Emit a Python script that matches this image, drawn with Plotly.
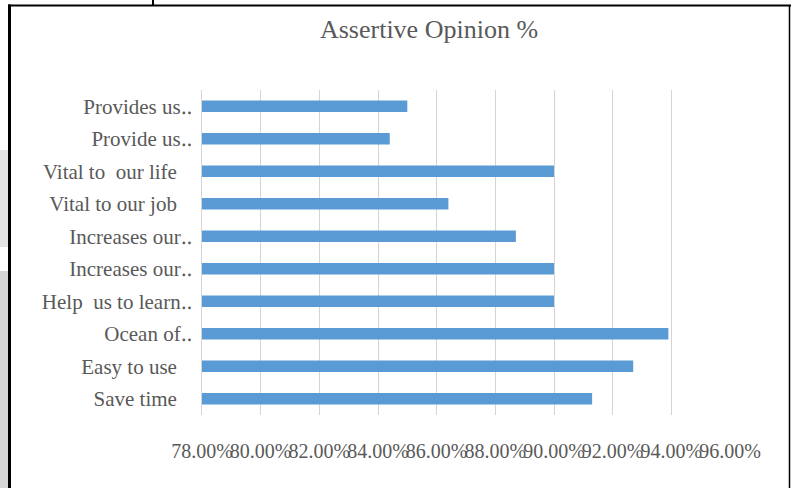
import plotly.graph_objects as go

# Survey responses, listed bottom to top as they appear on the axis
labels = [
    "Save time",
    "Easy to use",
    "Ocean of‥",
    "Help\u00a0 us to learn‥",
    "Increases our‥",
    "Increases our‥",
    "Vital to our job",
    "Vital to\u00a0 our life",
    "Provide us‥",
    "Provides us‥",
]
assertive_share = [0.913, 0.927, 0.939, 0.900, 0.900, 0.887, 0.864, 0.900, 0.844, 0.850]

x_min, x_max, x_step = 0.78, 0.96, 0.02

W, H = 791, 488
L, R, T, B = 202, 61, 90, 73
TEXT = "#595959"
FONT = "Liberation Serif, Times New Roman, serif"

positions = list(range(len(labels)))
# ellipsis labels sit flush; plain ones are padded like the source layout
tick_text = [s if s.endswith("‥") else s + "\u00a0\u00a0\u2009" for s in labels]

fig = go.Figure(
    go.Bar(
        x=assertive_share,
        y=positions,
        orientation="h",
        width=0.355,
        marker=dict(color="#5b9bd5", line=dict(width=0)),
        hovertemplate="%{x:.2%}<extra></extra>",
    )
)

pw, ph = W - L - R, H - T - B


def px_x(p):
    return (p - L) / pw


def px_y(p):
    return (H - B - p) / ph


shapes = [
    # faint page shading left of the frame
    dict(type="rect", xref="paper", yref="paper",
         x0=px_x(0), x1=px_x(8), y0=px_y(247), y1=px_y(150),
         fillcolor="#e4e4e4", line=dict(width=0), layer="below"),
    dict(type="rect", xref="paper", yref="paper",
         x0=px_x(0), x1=px_x(8), y0=px_y(490), y1=px_y(271),
         fillcolor="#d6d6d6", line=dict(width=0), layer="below"),
    # frame lines
    dict(type="line", xref="paper", yref="paper",
         x0=px_x(9.5), x1=px_x(9.5), y0=px_y(4.5), y1=px_y(495),
         line=dict(color="#000000", width=3)),
    dict(type="line", xref="paper", yref="paper",
         x0=px_x(8), x1=px_x(791), y0=px_y(5.5), y1=px_y(5.5),
         line=dict(color="#000000", width=2)),
    dict(type="line", xref="paper", yref="paper",
         x0=px_x(789.5), x1=px_x(789.5), y0=px_y(5), y1=px_y(495),
         line=dict(color="#000000", width=1.5)),
    dict(type="line", xref="paper", yref="paper",
         x0=px_x(153), x1=px_x(153), y0=px_y(0), y1=px_y(6),
         line=dict(color="#000000", width=2)),
]

fig.update_layout(
    width=W,
    height=H,
    autosize=False,
    margin=dict(l=L, r=R, t=T, b=B, pad=0, autoexpand=False),
    paper_bgcolor="#ffffff",
    plot_bgcolor="#ffffff",
    showlegend=False,
    font=dict(family=FONT, color=TEXT, size=20),
    title=dict(
        text="Assertive Opinion %",
        x=429 / W,
        xanchor="center",
        y=1 - 29 / H,
        yanchor="middle",
        font=dict(family=FONT, size=26, color=TEXT),
    ),
    xaxis=dict(
        range=[x_min, x_max],
        dtick=x_step,
        tick0=x_min,
        tickformat=".2%",
        tickangle=0,
        automargin=False,
        showgrid=True,
        gridcolor="#d4d4d4",
        gridwidth=1.3,
        zeroline=False,
        showline=False,
        ticks="",
        ticklabelstandoff=22,
        tickfont=dict(family=FONT, size=20, color=TEXT),
    ),
    yaxis=dict(
        range=[-0.5, len(labels) - 0.5],
        tickvals=positions,
        ticktext=tick_text,
        automargin=False,
        showgrid=False,
        zeroline=False,
        showline=True,
        linecolor="#d4d4d4",
        linewidth=1.3,
        ticks="",
        ticklabelstandoff=5,
        tickfont=dict(family=FONT, size=21, color=TEXT),
    ),
    shapes=shapes,
)

fig.write_html("out.html")
